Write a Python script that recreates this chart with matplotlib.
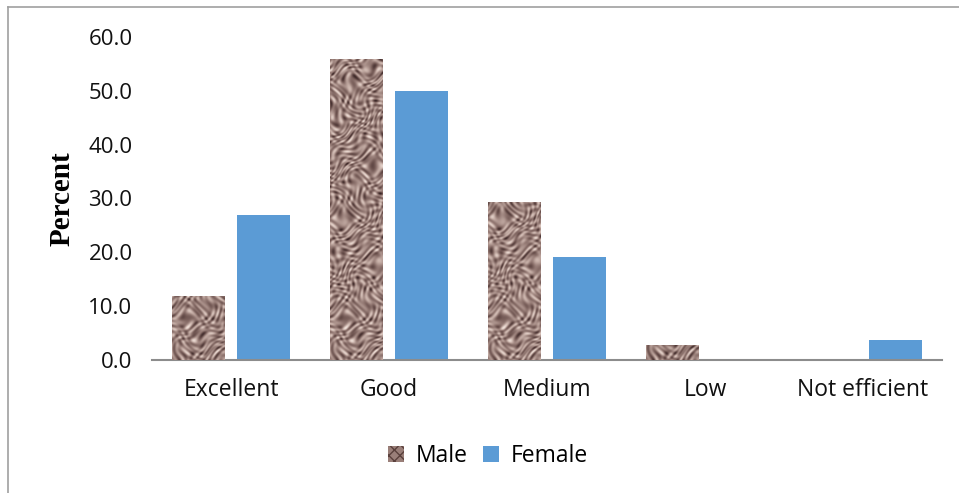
import numpy as np
import matplotlib
matplotlib.use("Agg")
import matplotlib.pyplot as plt
from matplotlib.colors import LinearSegmentedColormap
from matplotlib.patches import Patch
from matplotlib.lines import Line2D

categories = ["Excellent", "Good", "Medium", "Low", "Not efficient"]
male = [11.8, 55.9, 29.4, 2.8, 0.0]
female = [27.0, 50.0, 19.1, 0.0, 3.7]
yticks = [0, 10, 20, 30, 40, 50, 60]

plt.rcParams["font.family"] = ["Open Sans", "DejaVu Sans"]

W, H = 959, 493
fig = plt.figure(figsize=(W / 100, H / 100), dpi=100)
ax = fig.add_axes([152 / W, 1 - 360 / H, (942 - 152) / W, (360 - 37) / H])

x = np.arange(len(categories))
bw = 0.335
off = 0.208

male_color = "#8f7470"
female_color = "#5b9bd5"

mbars = ax.bar(x - off, male, bw, color=male_color, zorder=2)
fbars = ax.bar(x + off, female, bw, color=female_color, zorder=2)

# fibrous brown texture for the male bars, built from warped sine waves
tex_cmap = LinearSegmentedColormap.from_list(
    "weave", ["#3a2626", "#6e5450", "#9a807a", "#c9b2aa", "#efe0d8"])
gy, gx = np.mgrid[0:320, 0:56].astype(float)
u = gx + 6.0 * np.sin(0.071 * gy + 0.043 * gx) + 3.0 * np.sin(0.19 * gy - 0.11 * gx)
v = gy + 6.0 * np.sin(0.083 * gx - 0.052 * gy) + 3.0 * np.cos(0.17 * gx + 0.13 * gy)
pattern = (np.sin(0.55 * u + 0.38 * v) * np.sin(0.21 * u - 0.47 * v + 1.3)
           + 0.7 * np.sin(0.62 * v - 0.33 * u + 2.0 * np.sin(0.05 * u + 0.031 * v))
           * np.cos(0.29 * u + 0.17 * v)
           + 0.45 * np.sin(0.9 * u - 0.7 * v + 2.5 * np.sin(0.12 * v)))
pattern = (pattern - pattern.min()) / (pattern.max() - pattern.min())
for b in mbars:
    h = b.get_height()
    if h <= 0:
        continue
    x0 = b.get_x()
    rows = max(int(round(h * 5.38)), 2)
    im = ax.imshow(pattern[:rows], cmap=tex_cmap, aspect="auto",
                   extent=(x0, x0 + b.get_width(), 0, h), zorder=3,
                   interpolation="bilinear", origin="lower")
    im.set_clip_path(b)

ax.set_xlim(-0.5, 4.5)
ax.set_ylim(0, 60)
ax.set_yticks(yticks)
ax.set_yticklabels([f"{v:.1f}" for v in yticks])
ax.set_xticks(x)
ax.set_xticklabels(categories)
ax.tick_params(axis="y", length=0, pad=14, labelsize=16, colors="#111111")
ax.tick_params(axis="x", length=0, pad=13, labelsize=16.5, colors="#111111")
for s in ["top", "right", "left"]:
    ax.spines[s].set_visible(False)
ax.spines["bottom"].set_color("#8c8c8c")
ax.spines["bottom"].set_linewidth(1.5)
ax.set_facecolor("none")

fig.text(62 / W, 1 - 199 / H, "Percent", rotation=90, ha="center", va="center",
         fontsize=21, fontweight="bold", family=["Liberation Serif"])

plt.rcParams["hatch.color"] = "#5a403c"
handles = [Patch(facecolor="#9a7f79", edgecolor="#5a403c", hatch="xxx", linewidth=0),
           Patch(facecolor=female_color)]
fig.legend(handles, ["Male", "Female"], loc="center",
           bbox_to_anchor=(488 / W, 1 - 456 / H), ncol=2, frameon=False,
           fontsize=16.5, handlelength=0.7, handleheight=0.7,
           handletextpad=0.5, columnspacing=0.7)

# outer chart border
fig.add_artist(Line2D([8 / W, 8 / W], [0, 1 - 7 / H], color="#a0a0a0", lw=1.2))
fig.add_artist(Line2D([8 / W, 1], [1 - 7 / H, 1 - 7 / H], color="#a0a0a0", lw=1.2))

fig.savefig("out.png", dpi=100)
